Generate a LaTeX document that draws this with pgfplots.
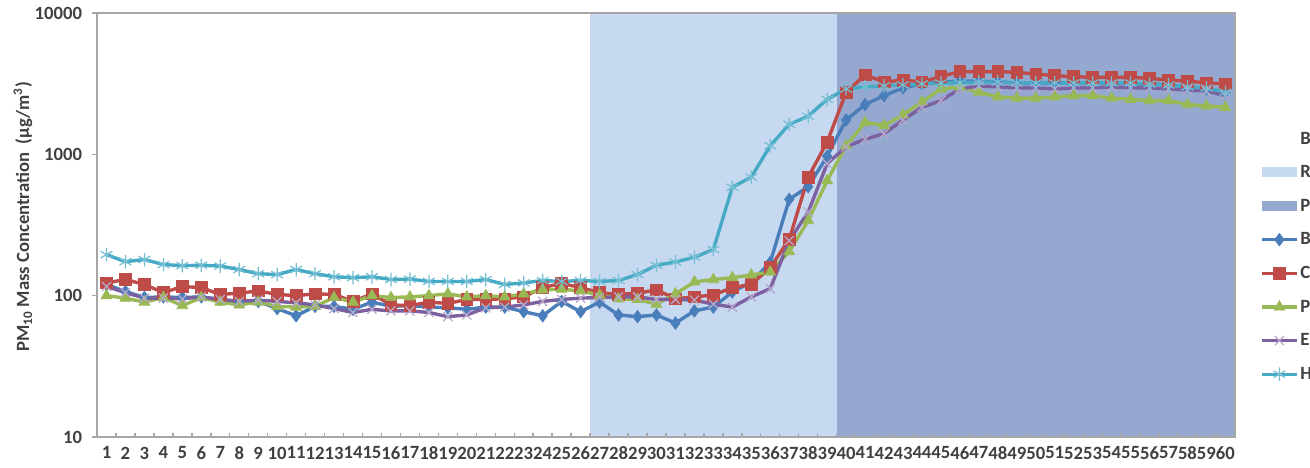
\documentclass[border=0pt]{standalone}
\usepackage{fontspec}
\setmainfont{Carlito}
\usepackage{pgfplots}
\pgfplotsset{compat=1.18}
\usepackage{pgfplotstable}
\definecolor{lightreg}{HTML}{C6D9F0}
\definecolor{darkreg}{HTML}{95A9D0}
\definecolor{cB}{HTML}{4A7EBB}
\definecolor{cC}{HTML}{BE4B48}
\definecolor{cP}{HTML}{98B954}
\definecolor{cE}{HTML}{7D60A0}
\definecolor{cH}{HTML}{46AAC5}
\definecolor{txt}{HTML}{404040}
\definecolor{axg}{HTML}{A6A6A6}
\pgfplotstableread{
x  B    C    P    E    H
1  120  123  100  116  195
2  107  130  96   105  174
3  97   120  90   96   180
4  98   105  97   96   166
5  97   116  85   95   163
6  98   114  97   98   164
7  94   102  90   94   162
8  91   104  86   91   153
9  91   108  90   93   143
10 81   102  84   91   141
11 72   100  83   89   153
12 84   103  84   86   143
13 84   102  97   81   136
14 80   91   90   76   134
15 90   103  100  80   136
16 84   86   97   78   130
17 85   85   98   78   131
18 83   90   100  76   126
19 82   88   103  71   126
20 80   94   98   73   126
21 83   94   100  82   130
22 83   95   98   83   120
23 77   98   103  86   123
24 72   114  110  91   128
25 91   122  111  94   126
26 77   114  108  96   128
27 90   105  101  97   126
28 73   102  95   98   128
29 71   104  94   98   141
30 73   110  87   94   164
31 64   95   103  94   173
32 78   98   125  93   187
33 83   101  130  87   212
34 106  114  134  83   585
35 125  120  140  98   690
36 172  158  147  112  1150
37 480  250  205  245  1630
38 590  690  340  390  1860
39 970  1220 650  860  2450
40 1750 2750 1150 1130 2900
41 2250 3650 1680 1280 3000
42 2600 3250 1600 1400 3050
43 2950 3350 1900 1750 3100
44 3150 3250 2350 2150 3150
45 3250 3550 2900 2400 3200
46 3300 3850 3000 2900 3200
47 3300 3850 2750 3050 3250
48 3250 3850 2550 3000 3250
49 3200 3800 2500 2950 3200
50 3150 3700 2500 2950 3200
51 3200 3600 2550 2900 3200
52 3200 3550 2600 2950 3200
53 3200 3500 2600 2950 3200
54 3200 3500 2500 3000 3200
55 3150 3500 2450 2950 3200
56 3150 3450 2400 2950 3150
57 3100 3350 2400 2900 3100
58 3000 3300 2250 2850 3000
59 2900 3200 2200 2800 2950
60 2750 3150 2150 2600 2750
}\datatable
\begin{document}
\begin{tikzpicture}
\begin{axis}[
  name=ax,
  scale only axis,
  width=639.3pt, height=238.2pt,
  ymode=log,
  xmin=0.5, xmax=60.5,
  ymin=10, ymax=10000,
  ytick={10,100,1000,10000},
  yticklabels={10,100,1000,10000},
  yminorticks=false,
  xtick={1,...,60},
  /pgf/number format/assume math mode=true,
  minor xtick={1.5,2.5,...,59.5},
  major x tick style={draw=none},
  minor x tick style={draw=axg, line width=0.8pt},
  major y tick style={draw=axg, line width=0.8pt, xshift=-2.8pt},
  major tick length=2.8pt,
  minor tick length=2.5pt,
  xtick pos=bottom, ytick pos=left,
  axis line style={draw=axg, line width=1pt},
  axis on top,
  tick label style={font=\bfseries\fontsize{10.5}{12}\selectfont, text=txt},
  yticklabel style={xshift=-4.9pt},
  xticklabel style={yshift=-2pt},
  ylabel={PM\textsubscript{10} Mass Concentration\ \ (µg/m\textsuperscript{3})},
  every axis y label/.style={at={(axis description cs:-0.0651,0.519)}, rotate=90, anchor=center, font=\bfseries\fontsize{10.5}{12}\selectfont, text=txt},
  legend style={at={(1,0.4257)}, anchor=west, xshift=14pt, draw=none, fill=none, inner sep=0pt,
    row sep=9.9pt, column sep=0.5pt,
    nodes={inner sep=0.5pt, text height=7pt, text depth=1pt, font=\bfseries\fontsize{10.5}{12}\selectfont, text=txt}},
  legend cell align=left,
  legend image code/.code={\draw[mark repeat=2,mark phase=2,#1] plot coordinates {(0pt,0pt) (9.85pt,0pt) (19.7pt,0pt)};},
]
\addlegendimage{empty legend}
\addlegendentry{B}
\addplot[fill=lightreg, draw=none,
  legend image code/.code={\fill[lightreg] (0pt,-2.8pt) rectangle (19.7pt,2.8pt);}]
  coordinates {(26.5,10) (26.5,10000) (39.5,10000) (39.5,10)};
\addlegendentry{R}
\addplot[fill=darkreg, draw=none,
  legend image code/.code={\fill[darkreg] (0pt,-2.8pt) rectangle (19.7pt,2.8pt);}]
  coordinates {(39.5,10) (39.5,10000) (60.5,10000) (60.5,10)};
\addlegendentry{P}
\addplot[cB, line width=1.9pt, mark=diamond*, mark size=3.5pt, mark options={solid, fill=cB, line width=0.4pt}] table[x=x, y=B] {\datatable};
\addlegendentry{B}
\addplot[cC, line width=1.9pt, mark=square*, mark size=3.3pt, mark options={solid, fill=cC, line width=0.4pt}] table[x=x, y=C] {\datatable};
\addlegendentry{C}
\addplot[cP, line width=1.9pt, mark=triangle*, mark size=3.5pt, mark options={solid, fill=cP, line width=0.4pt}] table[x=x, y=P] {\datatable};
\addlegendentry{P}
\addplot[cE, line width=1.9pt, mark=x, mark size=3.6pt, mark options={solid, draw=cE!55, line width=0.7pt}] table[x=x, y=E] {\datatable};
\addlegendentry{E}
\addplot[cH, line width=1.9pt, mark=asterisk, mark size=3.8pt, mark options={solid, draw=cH!75, line width=0.7pt}] table[x=x, y=H] {\datatable};
\addlegendentry{H}
\end{axis}
\pgfresetboundingbox
\path[use as bounding box] (-54.5pt,-17.4pt) rectangle (681.5pt,245.5pt);
\end{tikzpicture}
\end{document}
